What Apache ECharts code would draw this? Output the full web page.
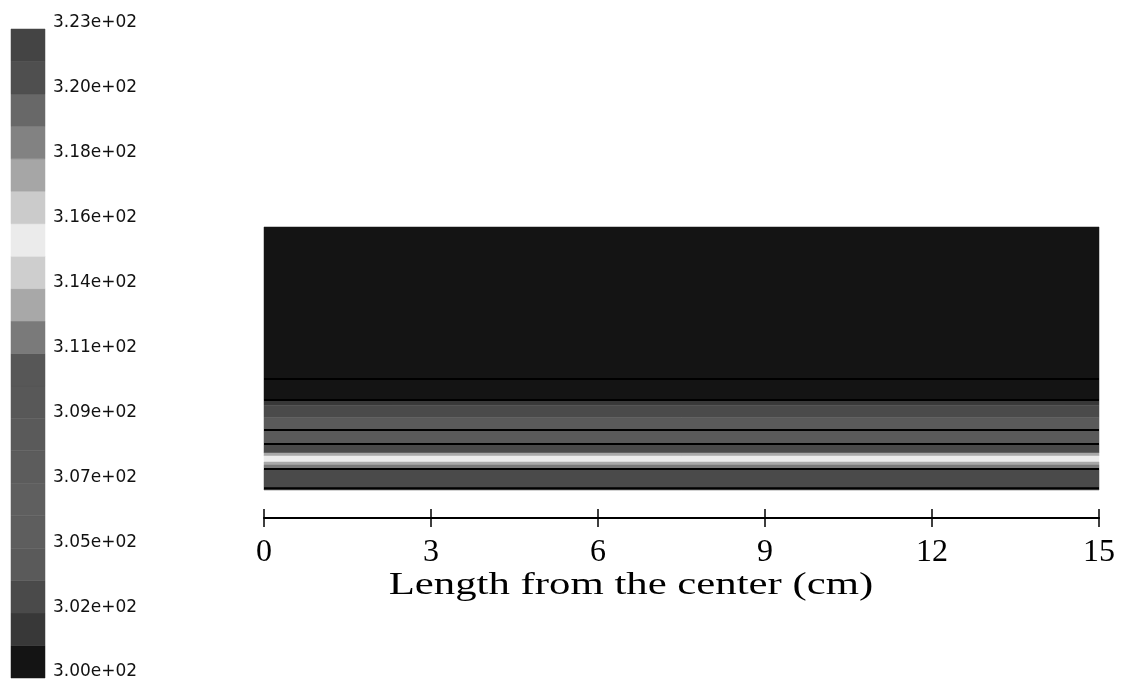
<!DOCTYPE html>
<html><head><meta charset="utf-8">
<script src="https://cdn.jsdelivr.net/npm/echarts@6/dist/echarts.min.js"></script>
<style>html,body{margin:0;padding:0;background:#fff}#c{width:1124px;height:681px}</style>
</head><body><div id="c"></div>
<script>
// Colour bar (temperature, K)
const tickLabels = ['3.00e+02','3.02e+02','3.05e+02','3.07e+02','3.09e+02','3.11e+02','3.14e+02','3.16e+02','3.18e+02','3.20e+02','3.23e+02'];
const levels = [300.00,301.13,302.26,303.39,304.52,305.65,306.78,307.91,309.04,310.17,311.30,312.43,313.56,314.69,315.82,316.95,318.08,319.21,320.34,321.47,322.60];
const bandGrays = ['#141414','#383838','#4a4a4a','#5a5a5a','#5e5e5e','#5f5f5f','#5c5c5c','#5a5a5a','#585858','#575757','#7a7a7a','#a8a8a8','#cecece','#ebebeb','#cbcbcb','#a6a6a6','#828282','#686868','#4f4f4f','#444444'];
const bandTemps = [300.57,301.70,302.83,303.96,305.09,306.22,307.35,308.48,309.61,310.74,311.87,313.00,314.13,315.26,316.39,317.52,318.65,319.78,320.91,322.04];

// Domain
const xTicks = [0,3,6,9,12,15];
const xTitle = 'Length from the center (cm)';
const heightMax = 47.2; // mm
// Layers (height in mm from bottom, temperature in K)
const layerBottom = [19.92,16.15,15.2,13.0,10.77,8.25,6.64,6.10,5.02,4.49,3.77,0];
const layerTop    = [47.2,19.92,16.15,15.2,13.0,10.77,8.25,6.64,6.10,5.02,4.49,3.77];
const layerTemp   = [300.4,300.8,301.6,302.6,303.5,303.8,302.9,313.0,315.5,313.2,311.6,302.7];
// Material interfaces (mm)
const interfaces = [19.92,16.15,10.77,8.25,3.77,0.3];

const xMin = xTicks[0], xMax = xTicks[xTicks.length-1];
const pieces = bandGrays.map((c,i)=>({gte:levels[i], lt:levels[i+1], color:c}));
pieces[pieces.length-1].lte = levels[levels.length-1]; delete pieces[pieces.length-1].lt;

const chart = echarts.init(document.getElementById('c'));
const lineSeries = interfaces.map(h=>({
  type:'line', xAxisIndex:1, yAxisIndex:1, data:[[xMin,h],[xMax,h]], symbol:'none', silent:true,
  lineStyle:{color:'#000', width:2}, z:5
}));
chart.setOption({
  animation:false,
  backgroundColor:'#fff',
  grid:[
    {left:11, top:29, width:34, height:649, containLabel:false, outerBoundsMode:'none'},
    {left:264, right:25, top:227, bottom:191, containLabel:false, outerBoundsMode:'none'}
  ],
  visualMap:{type:'piecewise', show:false, dimension:0, seriesIndex:[0,1], pieces:pieces},
  graphic:[{
    type:'text', x:631, y:586, originX:0, originY:0, scaleX:1.38,
    style:{text:xTitle, fill:'#000', font:'31px "Liberation Serif"', textAlign:'center', textVerticalAlign:'middle'}
  }],
  xAxis:[
    {gridIndex:0, type:'value', min:0, max:1, show:false},
    {gridIndex:1, type:'value', min:xMin, max:xMax, interval:3, position:'bottom', offset:28,
      axisLine:{show:true, onZero:false, lineStyle:{color:'#000', width:2}},
      axisTick:{show:true, inside:false, length:9, lineStyle:{color:'#000', width:1.5}},
      axisLabel:{show:true, color:'#000', fontFamily:'Liberation Serif', fontSize:32, margin:19},
      splitLine:{show:false}
    },
    {gridIndex:1, type:'value', min:xMin, max:xMax, interval:3, position:'bottom', offset:28,
      axisLine:{show:false, onZero:false},
      axisTick:{show:true, inside:true, length:9, lineStyle:{color:'#000', width:1.5}},
      axisLabel:{show:false}, splitLine:{show:false}
    }
  ],
  yAxis:[
    {gridIndex:0, type:'value', min:0, max:20, interval:2, position:'right',
      axisLine:{show:false}, axisTick:{show:false}, splitLine:{show:false},
      axisLabel:{show:true, color:'#111', fontFamily:'DejaVu Sans', fontSize:17, margin:8, verticalAlign:'bottom', lineHeight:12,
        formatter:v=>tickLabels[Math.round(v/2)]}
    },
    {gridIndex:1, type:'value', min:0, max:heightMax, show:false}
  ],
  series:[
    {type:'custom', xAxisIndex:0, yAxisIndex:0, data:bandTemps.map((t,i)=>[t,i]), silent:true,
      renderItem:(params, api)=>{
        const i = api.value(1);
        const p0 = api.coord([0,i]), p1 = api.coord([1,i+1]);
        return {type:'rect', shape:{x:p0[0], y:p1[1], width:p1[0]-p0[0], height:p0[1]-p1[1]},
          style:{fill:api.visual('color'), stroke:api.visual('color'), lineWidth:0.5}};
      }
    },
    {type:'custom', xAxisIndex:1, yAxisIndex:1, data:layerTemp.map((t,i)=>[t,layerBottom[i],layerTop[i]]), silent:true,
      renderItem:(params, api)=>{
        const p0 = api.coord([xMin, api.value(1)]), p1 = api.coord([xMax, api.value(2)]);
        return {type:'rect', shape:{x:p0[0], y:p1[1], width:p1[0]-p0[0], height:p0[1]-p1[1]},
          style:{fill:api.visual('color'), stroke:api.visual('color'), lineWidth:0.5}};
      }
    }
  ].concat(lineSeries)
});
</script></body></html>
